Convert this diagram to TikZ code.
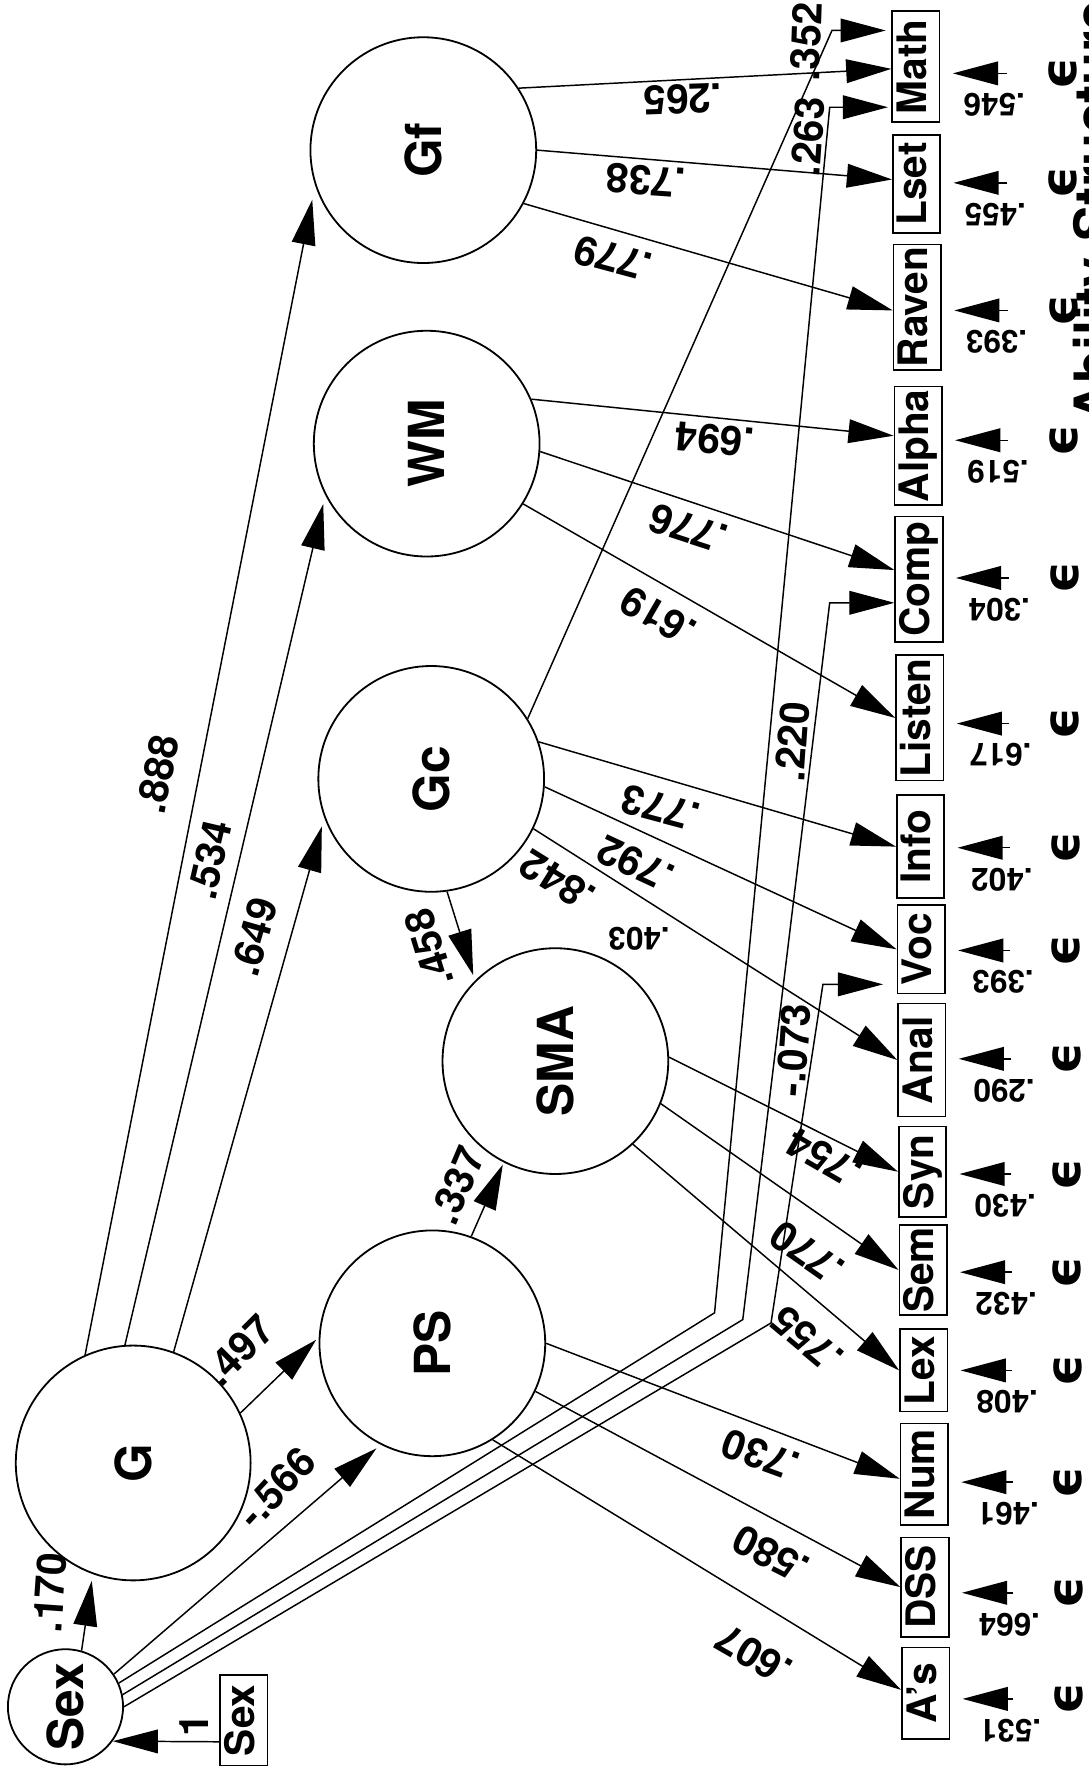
\documentclass[tikz,border=0pt]{standalone}
\usepackage{fontspec}
\setmainfont{TeX Gyre Heros}
\newfontfamily\epsfont{DejaVu Sans}
\usepackage{graphicx}
\usetikzlibrary{arrows.meta}
\newcommand{\rottext}[1]{\rotatebox{90}{#1}}

\begin{document}
\begin{tikzpicture}[x=1pt, y=-1pt, line width=1.3pt,
    factor/.style={circle, draw, line width=1.6pt, minimum size=200pt, inner sep=0pt,
      font=\fontsize{44}{48}\selectfont\bfseries},
    test/.style={rectangle, draw, line width=1.5pt, minimum width=42pt, inner sep=2pt,
      font=\fontsize{36}{40}\selectfont\bfseries},
    load/.style={inner sep=0pt, font=\fontsize{36}{40}\selectfont\bfseries},
    small/.style={inner sep=0pt, font=\fontsize{28}{30}\selectfont\bfseries},
    epsnode/.style={inner sep=0pt, font=\epsfont\fontsize{44}{46}\selectfont\bfseries},
    arr/.style={-{Triangle[length=40pt,width=21pt]}}]
  \useasboundingbox (0,0) rectangle (964,1568);

  % title, cut at the right edge
  \node[inner sep=0pt, anchor=south east, font=\fontsize{48}{52}\selectfont\bfseries]
    (ttl) at (998,375) {\rottext{Ability Structure}};

  % latent factors
  \node[factor] (Gf) at (375,133) {\rottext{Gf}};
  \node[factor] (WM) at (378,393) {\rottext{WM}};
  \node[factor] (Gc) at (382,690) {\rottext{Gc}};
  \node[factor] (SMA) at (492,940) {\rottext{SMA}};
  \node[factor] (PS) at (383,1190) {\rottext{PS}};
  \node[factor, minimum size=208pt] (G) at (118,1296) {\rottext{G}};
  \node[factor, minimum size=102pt] (Sex) at (58,1512) {\rottext{Sex}};
  \node[test, minimum height=80pt] (Sexbox) at (216,1524) {\rottext{\vphantom{Ap}Sex}};

  % observed tests with their errors
  \foreach \n/\t/\y/\h/\e/\r in {
      Math/Math/59/98pt/65/.546,
      Lset/Lset/163/87pt/162/.455,
      Raven/Raven/272/111pt/275/.393,
      Alpha/Alpha/395/105pt/390/.519,
      Comp/Comp/513/111pt/512/.304,
      Listen/Listen/636/111pt/641/.617,
      Info/Info/750/91pt/751/.402,
      Voc/Voc/841/78pt/842/.393,
      Anal/Anal/939/100pt/938/.290,
      Syn/Syn/1038/80pt/1040/.430,
      Sem/Sem/1125/80pt/1127/.432,
      Lex/Lex/1214/73pt/1214/.408,
      Num/Num/1306/90pt/1313/.461,
      DSS/DSS/1406/88pt/1411/.664,
      As/A’s/1500/81pt/1505/.531} {
    \node[test, minimum height=\h] (\n) at ({811+0.006*\y}, \y) {\rottext{\vphantom{Ap}\t}};
    \node[epsnode] (e\n) at ({941+0.004*\y}, \e) {\rottext{ϵ}};
    \draw[arr, shorten <=36pt, shorten >=11pt] (e\n) -- (e\n -| \n.east);
    \node[small, rotate=180] (r\n) at ({880+0.01*\y}, {\e+28}) {\r};
  }

  % bend points of the long paths
  \coordinate (c352) at (737,27);
  \coordinate (c263a) at (633,1163);
  \coordinate (c263b) at (735,95);
  \coordinate (c220a) at (658,1169);
  \coordinate (c220b) at (735,534);
  \coordinate (c073a) at (683,1172);
  \coordinate (c073b) at (729,872);

  % structural paths
  \draw[arr] ([yshift=-19pt]Sexbox.west) -- (Sex.-36);
  \draw[arr, shorten >=6pt] (Sex.74) -- (G.250);
  \draw[arr, shorten >=5pt] (Sex.34) -- (PS.243);
  \draw[arr, shorten >=3pt] (G.25) -- (PS.177);
  \draw[arr, shorten >=13pt] (G.114) -- (Gf.198);
  \draw[arr, shorten >=8pt] (G.94) -- (WM.207);
  \draw[arr, shorten >=8pt] (G.70) -- (Gc.200);
  \draw[arr, shorten >=5pt] (Gc.-82) -- (SMA.135);
  \draw[arr, shorten >=2pt] (PS.70) -- (SMA.243);

  % loadings
  \draw[arr] (Gf.33) -- ([yshift=-2pt]Math.west);
  \draw[arr] (Gf.0) -- ([yshift=4pt]Lset.west);
  \draw[arr] (Gf.-28) -- ([yshift=-3pt]Raven.west);
  \draw[arr] (WM.23) -- ([yshift=9pt]Alpha.west);
  \draw[arr] (WM.-4) -- ([yshift=8pt]Comp.west);
  \draw[arr] (WM.-32) -- (Listen.west);
  \draw[arr] (Gc.19) -- (Info.west);
  \draw[arr] (Gc.-4) -- (Voc.west);
  \draw[arr] (Gc.-26) -- (Anal.west);
  \draw[arr] (SMA.2) -- (Syn.west);
  \draw[arr] (SMA.-22) -- (Sem.west);
  \draw[arr] (SMA.-47) -- (Lex.west);
  \draw[arr] (PS.0) -- ([yshift=-4pt]Num.west);
  \draw[arr] (PS.-25) -- (DSS.west);
  \draw[arr] (PS.-58) -- ([yshift=3pt]As.west);
  \draw[arr, shorten >=5pt] (Gc.32) -- (c352) -- (c352 -| Math.west);
  \draw[arr, shorten >=3pt] (Sex.24) -- (c263a) -- (c263b) -- (c263b -| Math.west);
  \draw[arr] (Sex.12) -- (c220a) -- (c220b) -- (c220b -| Comp.west);
  \draw[arr, shorten >=12pt] (Sex.0) -- (c073a) -- (c073b) -- (c073b -| Voc.west);

  % coefficients
  \node[load, rotate=79] (l888) at (140,686) {.888};
  \node[load, rotate=77] (l534) at (186,762) {.534};
  \node[load, rotate=74] (l649) at (225,830) {.649};
  \node[load, rotate=45] (l497) at (212,1196) {.497};
  \node[load, rotate=47] (l566) at (245,1318) {-.566};
  \node[load, rotate=86] (l170) at (44,1411) {.170};
  \node[load, rotate=90] (lone) at (172,1528) {1};
  \node[load, rotate=107] (l458) at (380,840) {.458};
  \node[load, rotate=67] (l337) at (405,1050) {.337};
  \node[load, rotate=88] (l352) at (714,37) {.352};
  \node[load, rotate=86] (l263) at (716,121) {.263};
  \node[load, rotate=86] (l220) at (702,657) {.220};
  \node[load, rotate=86] (l073) at (703,930) {-.073};
  \node[load, rotate=182] (l265) at (605,88) {.265};
  \node[load, rotate=176] (l738) at (572,160) {.738};
  \node[load, rotate=165] (l779) at (543,229) {.779};
  \node[load, rotate=175] (l694) at (633,389) {.694};
  \node[load, rotate=162] (l776) at (610,468) {.776};
  \node[load, rotate=150] (l619) at (583,546) {.619};
  \node[load, rotate=165] (l773) at (585,716) {.773};
  \node[load, rotate=155] (l792) at (563,765) {.792};
  \node[load, rotate=148] (l842) at (494,780) {.842};
  \node[small, rotate=180] (l403) at (566,832) {.403};
  \node[load, rotate=150] (l754) at (730,1026) {.754};
  \node[load, rotate=145] (l770) at (715,1110) {.770};
  \node[load, rotate=140] (l755) at (715,1186) {.755};
  \node[load, rotate=160] (l730) at (674,1289) {.730};
  \node[load, rotate=153] (l580) at (683,1377) {.580};
  \node[load, rotate=150] (l607) at (668,1466) {.607};
\end{tikzpicture}
\end{document}
